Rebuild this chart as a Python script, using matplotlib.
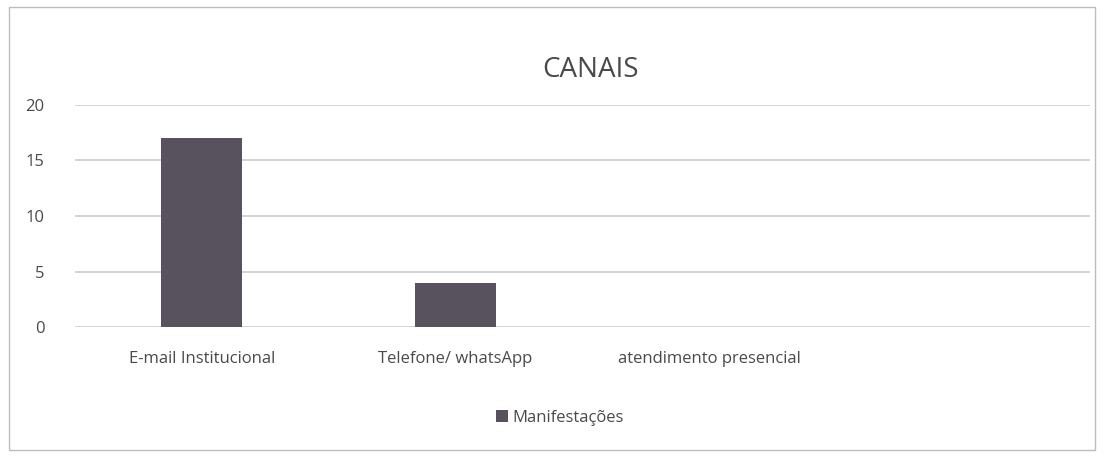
#!/usr/bin/env python
# CANAIS - bar chart of manifestacoes per channel
import matplotlib
matplotlib.use('Agg')
import matplotlib.pyplot as plt
from matplotlib.patches import Rectangle

categories = ['E-mail Institucional', 'Telefone/ whatsApp', 'atendimento presencial', '']
manifestacoes = [17, 4, 0, 0]
yticks = [0, 5, 10, 15, 20]

TXT = '#4a4a4a'
BAR = '#58525f'

plt.rcParams['font.family'] = ['Open Sans', 'DejaVu Sans']

fig = plt.figure(figsize=(11.2, 4.62), dpi=100)
ax = fig.add_axes([0.067, 0.292, 0.906, 0.481])

x = range(len(categories))
ax.bar(x, manifestacoes, width=0.32, color=BAR, label='Manifestações', zorder=3)

ax.set_xlim(-0.5, len(categories) - 0.5)
ax.set_ylim(0, 20)
ax.set_yticks(yticks)
ax.set_xticks(list(x))
ax.set_xticklabels(categories, fontsize=12, color=TXT)
ax.tick_params(axis='y', labelsize=12, labelcolor=TXT, length=0, pad=22)
ax.tick_params(axis='x', length=0, pad=17)
ax.grid(axis='y', color='#c8c8c8', linewidth=1.1, zorder=0)
for s in ax.spines.values():
    s.set_visible(False)

fig.text(0.527, 0.848, 'CANAIS', ha='center', va='center', fontsize=20, color=TXT)

leg = fig.legend(loc='center', bbox_to_anchor=(0.5, 0.095), frameon=False,
                 fontsize=12, handlelength=0.7, handleheight=0.7, handletextpad=0.3)
for t in leg.get_texts():
    t.set_color(TXT)

# chart border
fig.patches.append(Rectangle((0.008, 0.025), 0.97, 0.96, transform=fig.transFigure,
                             fill=False, edgecolor='#bdbdbd', linewidth=1))

fig.savefig('out.png', dpi=100)
